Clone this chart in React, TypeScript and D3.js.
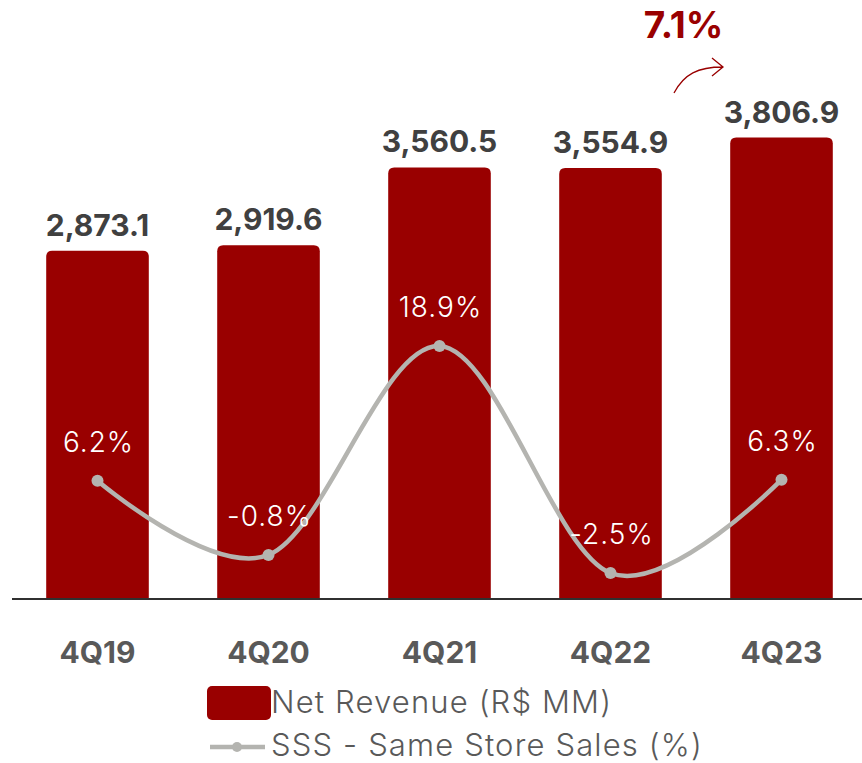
import React, { useEffect, useRef } from "react";
import * as d3 from "d3";

const categories = ["4Q19", "4Q20", "4Q21", "4Q22", "4Q23"];
const netRevenue = [2873.1, 2919.6, 3560.5, 3554.9, 3806.9];
const sss = [6.2, -0.8, 18.9, -2.5, 6.3];
const revenueLabels = ["2,873.1", "2,919.6", "3,560.5", "3,554.9", "3,806.9"];
const sssLabels = ["6.2%", "-0.8%", "18.9%", "-2.5%", "6.3%"];
const growthLabel = "7.1%";

const RED = "#990000";
const GRAY_LINE = "#b4b4b0";
const FONT = "Inter, 'Open Sans', sans-serif";

const App = () => {
	const ref = useRef<HTMLDivElement>(null);

	useEffect(() => {
		const width = 862;
		const height = 763;
		const baseY = 599;

		d3.select(ref.current).selectAll("*").remove();
		const svg = d3
			.select(ref.current)
			.append("svg")
			.attr("width", width)
			.attr("height", height)
			.style("position", "absolute")
			.style("left", "0px")
			.style("top", "0px")
			.style("font-family", FONT);

		const x = d3.scaleBand().domain(categories).range([12, 867]).paddingInner(0.4).paddingOuter(0.2);
		const y = d3.scaleLinear().domain([0, 4942]).range([baseY, 0]);
		const yLine = d3.scaleLinear().domain([-2.5, 18.9]).range([573, 346]);

		const cx = (c: string) => (x(c) as number) + x.bandwidth() / 2;

		// bars
		svg
			.append("g")
			.selectAll("path")
			.data(netRevenue)
			.join("path")
			.attr("fill", RED)
			.attr("d", (d, i) => {
				const x0 = x(categories[i]) as number;
				const w = x.bandwidth();
				const y0 = y(d);
				const r = 6;
				return `M${x0},${baseY}V${y0 + r}Q${x0},${y0} ${x0 + r},${y0}H${x0 + w - r}Q${x0 + w},${y0} ${x0 + w},${y0 + r}V${baseY}Z`;
			});

		// value labels
		svg
			.append("g")
			.selectAll("text")
			.data(netRevenue)
			.join("text")
			.attr("x", (d, i) => cx(categories[i]))
			.attr("y", (d) => y(d) - 15)
			.attr("text-anchor", "middle")
			.attr("font-size", 30)
			.attr("font-weight", 700)
			.attr("fill", "#404040")
			.text((d, i) => revenueLabels[i]);

		// baseline
		svg
			.append("line")
			.attr("x1", 12)
			.attr("x2", width)
			.attr("y1", baseY)
			.attr("y2", baseY)
			.attr("stroke", "#303030")
			.attr("stroke-width", 2);

		// SSS line
		const line = d3
			.line<number>()
			.x((d, i) => cx(categories[i]))
			.y((d) => yLine(d))
			.curve(d3.curveCardinal.tension(0));

		svg
			.append("path")
			.datum(sss)
			.attr("fill", "none")
			.attr("stroke", GRAY_LINE)
			.attr("stroke-width", 4.5)
			.attr("d", line);

		svg
			.append("g")
			.selectAll("circle")
			.data(sss)
			.join("circle")
			.attr("cx", (d, i) => cx(categories[i]))
			.attr("cy", (d) => yLine(d))
			.attr("r", 6)
			.attr("fill", GRAY_LINE);

		svg
			.append("g")
			.selectAll("text")
			.data(sss)
			.join("text")
			.attr("x", (d, i) => cx(categories[i]) + 1)
			.attr("y", (d) => yLine(d) - 29)
			.attr("text-anchor", "middle")
			.attr("font-size", 28)
			.attr("font-weight", 300)
			.attr("letter-spacing", 1)
			.attr("fill", "#ffffff")
			.text((d, i) => sssLabels[i]);

		// category labels
		svg
			.append("g")
			.selectAll("text")
			.data(categories)
			.join("text")
			.attr("x", (d) => cx(d))
			.attr("y", 663)
			.attr("text-anchor", "middle")
			.attr("font-size", 30)
			.attr("font-weight", 700)
			.attr("fill", "#595959")
			.text((d) => d);

		// growth annotation
		const last = categories[categories.length - 1];
		svg
			.append("text")
			.attr("x", cx(last) - 98)
			.attr("y", 38)
			.attr("text-anchor", "middle")
			.attr("font-size", 37)
			.attr("font-weight", 700)
			.attr("fill", RED)
			.text(growthLabel);

		svg
			.append("path")
			.attr("fill", "none")
			.attr("stroke", RED)
			.attr("stroke-width", 1.3)
			.attr("d", "M674,93C684,74 698,67 723,67M712,58L723,67L712,76");

		// legend
		const legend = svg
			.append("g")
			.attr("font-size", 31)
			.attr("font-weight", 300)
			.attr("letter-spacing", 1.15)
			.attr("fill", "#595959");
		legend.append("rect").attr("x", 207).attr("y", 686).attr("width", 64).attr("height", 34).attr("rx", 5).attr("fill", RED);
		legend.append("text").attr("x", 271).attr("y", 713).text("Net Revenue (R$ MM)");
		legend
			.append("line")
			.attr("x1", 210)
			.attr("x2", 265)
			.attr("y1", 747)
			.attr("y2", 747)
			.attr("stroke", GRAY_LINE)
			.attr("stroke-width", 4.5);
		legend.append("circle").attr("cx", 237).attr("cy", 747).attr("r", 5).attr("fill", GRAY_LINE);
		legend.append("text").attr("x", 271).attr("y", 756).text("SSS - Same Store Sales (%)");
	}, []);

	return <div ref={ref}></div>;
};

export default App;
